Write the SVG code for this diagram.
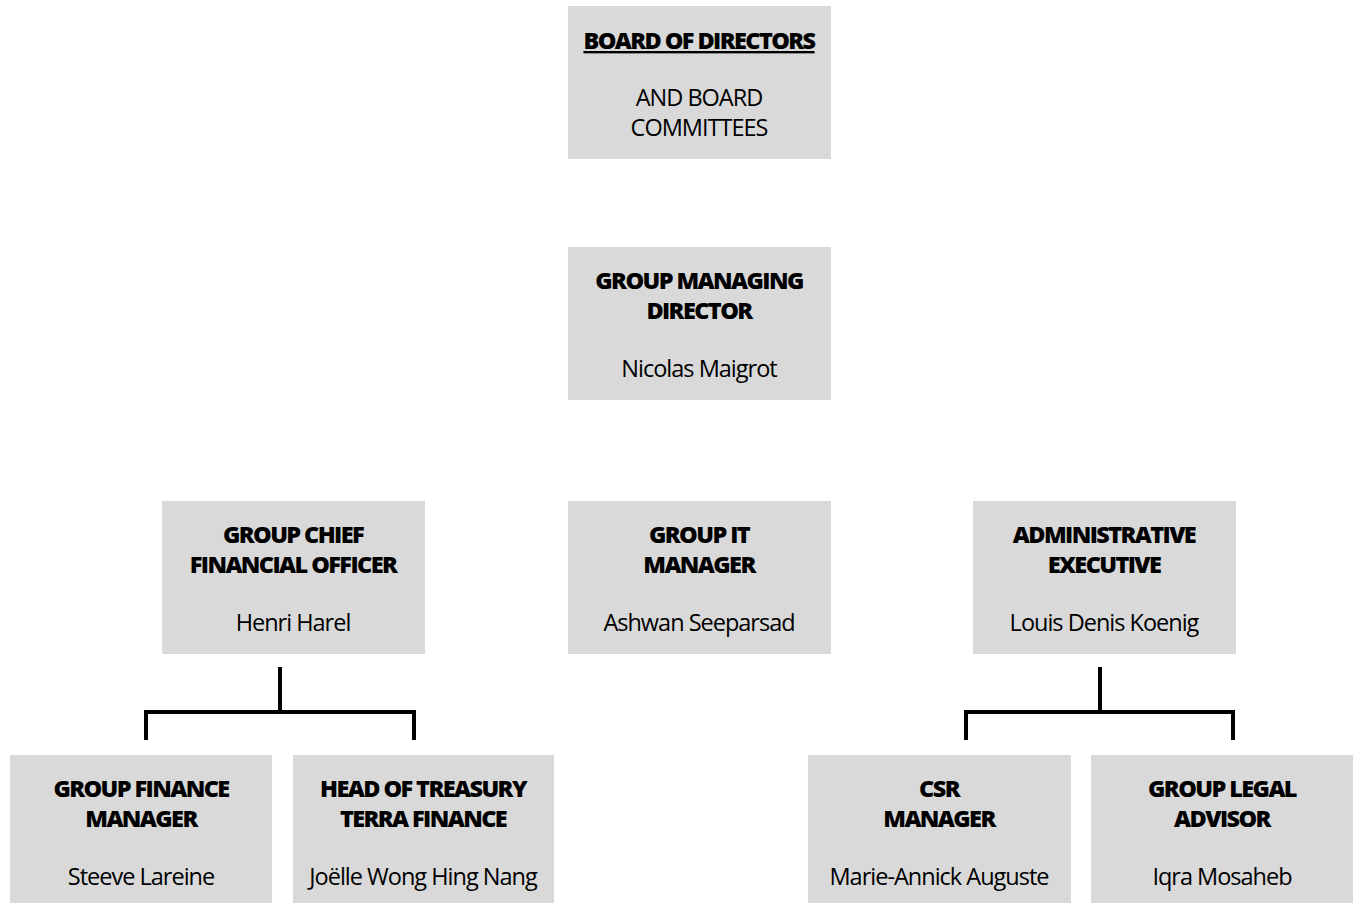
<svg xmlns="http://www.w3.org/2000/svg" width="1357" height="903" viewBox="0 0 1357 903">
<style>
.box{fill:#d9d9d9}
.t{font-family:"Open Sans","Liberation Sans",sans-serif;font-size:23.5px;font-weight:800;letter-spacing:-1.6px;text-anchor:middle;fill:#000}
.n{font-family:"Open Sans","Liberation Sans",sans-serif;font-size:23.5px;letter-spacing:-1px;text-anchor:middle;fill:#000}
.c{fill:none;stroke:#000;stroke-width:4}
</style>
<rect width="1357" height="903" fill="#fff"/>
<g id="board"><rect class="box" x="568" y="6" width="263" height="153"/>
<text class="t" x="699" y="49" text-decoration="underline">BOARD OF DIRECTORS</text>
<text class="n" x="699" y="106">AND BOARD</text><text class="n" x="699" y="136">COMMITTEES</text></g>
<g id="gmd"><rect class="box" x="568" y="247" width="263" height="153"/>
<text class="t" x="699" y="289">GROUP MANAGING</text><text class="t" x="699" y="319">DIRECTOR</text>
<text class="n" x="699" y="377">Nicolas Maigrot</text></g>
<g id="cfo"><rect class="box" x="162" y="501" width="263" height="153"/>
<text class="t" x="293" y="543">GROUP CHIEF</text><text class="t" x="293" y="573">FINANCIAL OFFICER</text>
<text class="n" x="293" y="631">Henri Harel</text></g>
<g id="it"><rect class="box" x="568" y="501" width="263" height="153"/>
<text class="t" x="699" y="543">GROUP IT</text><text class="t" x="699" y="573">MANAGER</text>
<text class="n" x="699" y="631">Ashwan Seeparsad</text></g>
<g id="admin"><rect class="box" x="973" y="501" width="263" height="153"/>
<text class="t" x="1104" y="543">ADMINISTRATIVE</text><text class="t" x="1104" y="573">EXECUTIVE</text>
<text class="n" x="1104" y="631">Louis Denis Koenig</text></g>
<g id="gfm"><rect class="box" x="10" y="755" width="262" height="148"/>
<text class="t" x="141" y="797">GROUP FINANCE</text><text class="t" x="141" y="827">MANAGER</text>
<text class="n" x="141" y="885">Steeve Lareine</text></g>
<g id="treasury"><rect class="box" x="293" y="755" width="261" height="148"/>
<text class="t" x="423" y="797">HEAD OF TREASURY</text><text class="t" x="423" y="827">TERRA FINANCE</text>
<text class="n" x="423" y="885">Joëlle Wong Hing Nang</text></g>
<g id="csr"><rect class="box" x="808" y="755" width="263" height="148"/>
<text class="t" x="939" y="797">CSR</text><text class="t" x="939" y="827">MANAGER</text>
<text class="n" x="939" y="885">Marie-Annick Auguste</text></g>
<g id="legal"><rect class="box" x="1091" y="755" width="262" height="148"/>
<text class="t" x="1222" y="797">GROUP LEGAL</text><text class="t" x="1222" y="827">ADVISOR</text>
<text class="n" x="1222" y="885">Iqra Mosaheb</text></g>
<g id="connectors">
<path class="c" d="M280 667V712M146 740V712H414V740"/>
<path class="c" d="M1100 667V712M966 740V712H1233V740"/>
</g>
</svg>
